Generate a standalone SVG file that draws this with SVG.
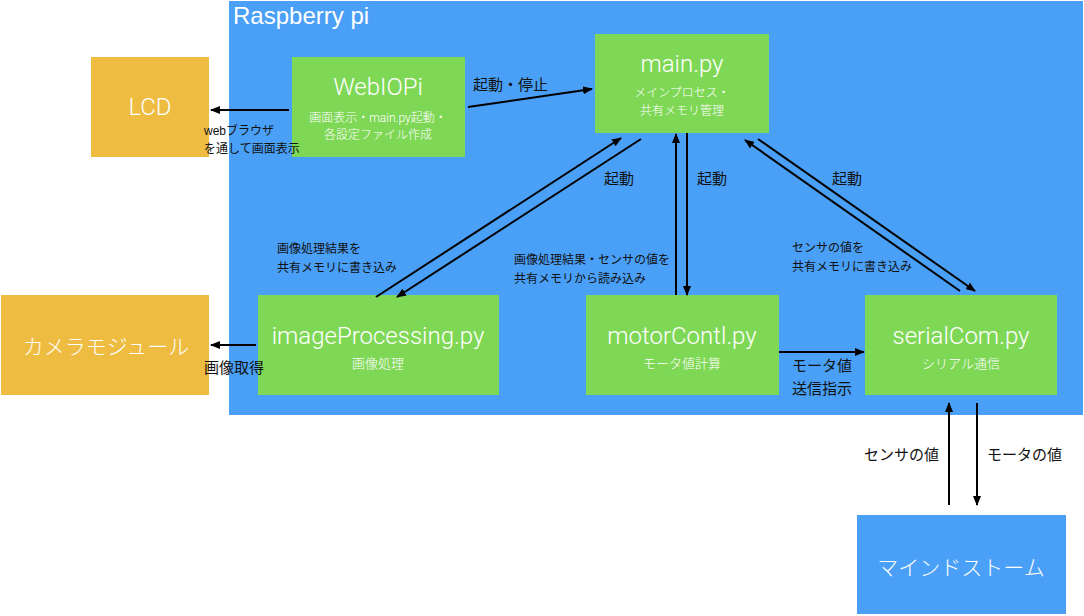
<svg xmlns="http://www.w3.org/2000/svg" width="1084" height="616" viewBox="0 0 1084 616">
<style>
.bg{fill:#ffffff}
.pi{fill:#4a9ff6}
.gr{fill:#7fd756}
.or{fill:#edbc40}
.bl{fill:#4a9ff6}
text{font-family:"Liberation Sans","Noto Sans CJK JP",sans-serif}
.w{font-family:Roboto,"Noto Sans CJK JP",sans-serif;font-weight:300;fill:#fff;text-anchor:middle}
.t{font-size:24px}
.s{font-size:12px}
.s2{font-size:13px}
.big{font-size:21px}
.lb{fill:#111;font-size:15px}
.ls{fill:#111;font-size:12px}
.c{stroke:#000;stroke-width:2;fill:none;marker-end:url(#ah)}
</style>
<defs>
<marker id="ah" viewBox="0 0 10 8" refX="9" refY="4" markerWidth="10" markerHeight="8" markerUnits="userSpaceOnUse" orient="auto">
<path d="M0,0 L10,4 L0,8 z" fill="#000"/>
</marker>
</defs>
<rect class="bg" x="0" y="0" width="1084" height="616"/>
<g id="raspberry-pi">
<rect class="pi" x="229" y="1" width="854" height="414"/>
<text x="233" y="24" fill="#fff" font-size="24" font-family="Roboto,'Liberation Sans',sans-serif" font-weight="300">Raspberry pi</text>
</g>
<g id="lcd">
<rect class="or" x="91" y="57" width="118" height="100"/>
<text class="w t" x="150" y="115">LCD</text>
</g>
<g id="webiopi">
<rect class="gr" x="292" y="57" width="173" height="100"/>
<text class="w t" x="378" y="95">WebIOPi</text>
<text class="w s" x="378" y="122">画面表示・main.py起動・</text>
<text class="w s" x="378" y="139">各設定ファイル作成</text>
</g>
<g id="main">
<rect class="gr" x="595" y="34" width="174" height="99"/>
<text class="w t" x="682" y="72">main.py</text>
<text class="w s" x="682" y="97">メインプロセス・</text>
<text class="w s" x="682" y="115">共有メモリ管理</text>
</g>
<g id="camera">
<rect class="or" x="1" y="295" width="208" height="100"/>
<text class="w big" x="106" y="354">カメラモジュール</text>
</g>
<g id="imageProcessing">
<rect class="gr" x="258" y="295" width="241" height="100"/>
<text class="w t" x="378" y="344">imageProcessing.py</text>
<text class="w s2" x="378" y="368">画像処理</text>
</g>
<g id="motorContl">
<rect class="gr" x="586" y="295" width="193" height="100"/>
<text class="w t" x="682" y="344">motorContl.py</text>
<text class="w s2" x="682" y="368">モータ値計算</text>
</g>
<g id="serialCom">
<rect class="gr" x="865" y="295" width="192" height="100"/>
<text class="w t" x="961" y="344">serialCom.py</text>
<text class="w s2" x="961" y="368">シリアル通信</text>
</g>
<g id="mindstorm">
<rect class="bl" x="857" y="515" width="209" height="99"/>
<text class="w big" x="961" y="575">マインドストーム</text>
</g>
<g id="connectors">
<line class="c" x1="289" y1="110" x2="211" y2="110"/>
<line class="c" x1="468" y1="107" x2="592" y2="89"/>
<line class="c" x1="376" y1="297" x2="621" y2="138"/>
<line class="c" x1="641" y1="139" x2="397" y2="297"/>
<line class="c" x1="676" y1="295" x2="676" y2="134"/>
<line class="c" x1="687" y1="133" x2="687" y2="295"/>
<line class="c" x1="960" y1="291" x2="745" y2="140"/>
<line class="c" x1="758" y1="139" x2="975" y2="291"/>
<line class="c" x1="256" y1="345" x2="211" y2="345"/>
<line class="c" x1="779" y1="352" x2="864" y2="352"/>
<line class="c" x1="949" y1="505" x2="949" y2="403"/>
<line class="c" x1="977" y1="403" x2="977" y2="505"/>
</g>
<g id="labels">
<text class="ls" x="204" y="135">webブラウザ</text>
<text class="ls" x="204" y="153">を通して画面表示</text>
<text class="lb" x="473" y="90">起動・停止</text>
<text class="lb" x="604" y="184">起動</text>
<text class="lb" x="697" y="184">起動</text>
<text class="lb" x="832" y="184">起動</text>
<text class="ls" x="277" y="253">画像処理結果を</text>
<text class="ls" x="277" y="272">共有メモリに書き込み</text>
<text class="ls" x="514" y="264">画像処理結果・センサの値を</text>
<text class="ls" x="514" y="283">共有メモリから読み込み</text>
<text class="ls" x="792" y="252">センサの値を</text>
<text class="ls" x="792" y="271">共有メモリに書き込み</text>
<text class="lb" x="204" y="373">画像取得</text>
<text class="lb" x="792" y="371">モータ値</text>
<text class="lb" x="792" y="394">送信指示</text>
<text class="lb" x="864" y="460">センサの値</text>
<text class="lb" x="987" y="460">モータの値</text>
</g>
</svg>
